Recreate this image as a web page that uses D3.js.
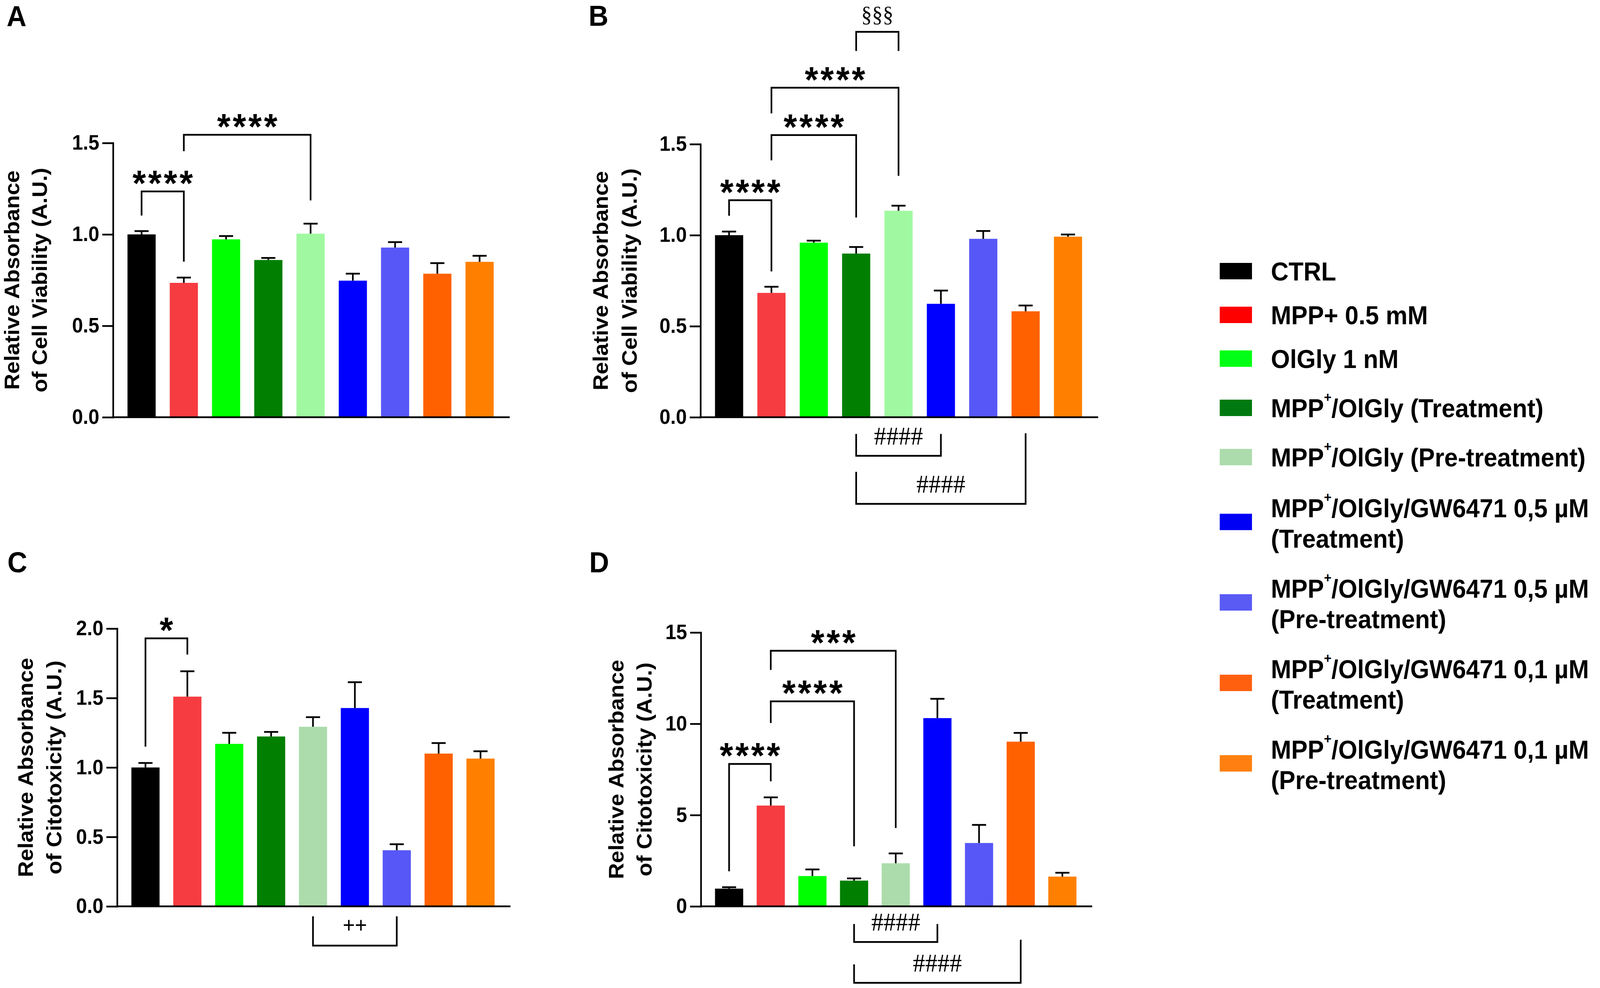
<!DOCTYPE html>
<html>
<head>
<meta charset="utf-8">
<script src="https://cdn.jsdelivr.net/npm/d3@7"></script>
<style>
html,body{margin:0;padding:0;background:#fff;overflow:hidden;}
svg{display:block;width:100vw;height:100vh;font-family:"Liberation Sans",Arial,sans-serif;}
</style>
</head>
<body>
<svg viewBox="0 0 4317 2529" preserveAspectRatio="none"></svg>
<script>
(()=>{
	//groups, bar order == legend order ("^+" = superscript plus, "|" = line break)
	const groups = [
		"CTRL",
		"MPP+ 0.5 mM",
		"OlGly 1 nM",
		"MPP^+/OlGly (Treatment)",
		"MPP^+/OlGly (Pre-treatment)",
		"MPP^+/OlGly/GW6471 0,5 µM|(Treatment)",
		"MPP^+/OlGly/GW6471 0,5 µM|(Pre-treatment)",
		"MPP^+/OlGly/GW6471 0,1 µM|(Treatment)",
		"MPP^+/OlGly/GW6471 0,1 µM|(Pre-treatment)"
	];

	//means and error (SEM)
	const viabilityA = [1.00, 0.735, 0.973, 0.860, 1.004, 0.747, 0.928, 0.785, 0.850];
	const viabilityA_err = [0.018, 0.029, 0.018, 0.011, 0.055, 0.038, 0.030, 0.058, 0.033];
	const viabilityB = [1.00, 0.683, 0.959, 0.899, 1.134, 0.623, 0.980, 0.582, 0.992];
	const viabilityB_err = [0.020, 0.034, 0.011, 0.036, 0.028, 0.073, 0.043, 0.032, 0.012];
	const cytoC = [1.00, 1.510, 1.170, 1.223, 1.293, 1.428, 0.404, 1.100, 1.064];
	const cytoC_err = [0.032, 0.183, 0.080, 0.033, 0.069, 0.186, 0.043, 0.076, 0.053];
	const cytoD = [0.97, 5.52, 1.66, 1.41, 2.36, 10.31, 3.47, 9.02, 1.63];
	const cytoD_err = [0.08, 0.45, 0.36, 0.12, 0.54, 1.06, 0.99, 0.48, 0.21];

	//tick values
	const ticksAB = [0, 0.5, 1.0, 1.5];
	const ticksC = [0, 0.5, 1.0, 1.5, 2.0];
	const ticksD = [0, 5, 10, 15];

	//significance brackets: a,b = group index, y = bar of bracket, ya/yb = leg ends (data units)
	const bracketsA = [
		{a:0, b:1, y:1.235, ya:1.103, yb:0.851, label:"****"},
		{a:1, b:4, y:1.545, ya:1.455, yb:1.186, label:"****"}
	];
	const bracketsB = [
		{a:0, b:1, y:1.192, ya:1.107, yb:0.801, label:"****"},
		{a:1, b:3, y:1.550, ya:1.411, yb:1.097, label:"****"},
		{a:1, b:4, y:1.810, ya:1.669, yb:1.326, label:"****"},
		{a:3, b:4, y:2.117, ya:2.012, yb:2.012, label:"§§§"},
		{a:3, b:5, y:-0.212, ya:-0.092, yb:-0.092, label:"####"},
		{a:3, b:7, y:-0.476, ya:-0.300, yb:-0.088, label:"####"}
	];
	const bracketsC = [
		{a:0, b:1, y:1.930, ya:1.150, yb:1.813, label:"*"},
		{a:4, b:6, y:-0.283, ya:-0.072, yb:-0.072, label:"++"}
	];
	const bracketsD = [
		{a:0, b:1, y:7.80, ya:1.92, yb:6.85, label:"****"},
		{a:1, b:3, y:11.23, ya:10.04, yb:3.29, label:"****"},
		{a:1, b:4, y:14.00, ya:12.95, yb:4.29, label:"***"},
		{a:3, b:5, y:-1.95, ya:-0.97, yb:-0.97, label:"####"},
		{a:3, b:7, y:-4.19, ya:-3.18, yb:-1.83, label:"####"}
	];

	const titleViability = ["Relative Absorbance", "of Cell Viability (A.U.)"];
	const titleCyto = ["Relative Absorbance", "of Citotoxicity (A.U.)"];

	//styles
	const colorsAB = ["#000000","#f63c41","#00ff00","#007f00","#a0f9a0","#0000ff","#5757f7","#ff6100","#ff8000"];
	const colorsCD = ["#000000","#f63c41","#00ff00","#007f00","#acdcac","#0000ff","#5757f7","#ff6100","#ff8000"];
	const legendColors = ["#000000","#ff0000","#00ff14","#007a10","#acdcac","#0000f5","#5a5af5","#ff6010","#ff8010"];
	const barW = 76, capW = 38, lw = 4.5;
	const markStyle = {
		"*": {family:"Liberation Sans", weight:"bold", size:93, spacing:6, shift:11},
		"§": {family:"Liberation Serif", weight:"normal", size:58, spacing:0, shift:-25},
		"#": {family:"Liberation Serif", weight:"normal", size:66, spacing:0, shift:-29},
		"+": {family:"Liberation Sans", weight:"normal", size:56, spacing:0, shift:-34}
	};

	let svg = d3.select("svg");
	svg.append("rect").attr("width",4317).attr("height",2529).attr("fill","#fff");

	const panels = [
		{letter:"A", lx:18, ly:67, x0:305, y0:1068, yTop:366, step:114, titleOff:[-253,-179],
			values:viabilityA, errs:viabilityA_err, ticks:ticksAB, fmt:d3.format(".1f"), brackets:bracketsA, title:titleViability, colors:colorsAB},
		{letter:"B", lx:1588, ly:66, x0:1890, y0:1068, yTop:369, step:114.3, titleOff:[-250,-172],
			values:viabilityB, errs:viabilityB_err, ticks:ticksAB, fmt:d3.format(".1f"), brackets:bracketsB, title:titleViability, colors:colorsAB},
		{letter:"C", lx:20, ly:1465, x0:316, y0:2320, yTop:1609, step:113, titleOff:[-227,-151],
			values:cytoC, errs:cytoC_err, ticks:ticksC, fmt:d3.format(".1f"), brackets:bracketsC, title:titleCyto, colors:colorsCD},
		{letter:"D", lx:1590, ly:1465, x0:1891, y0:2320, yTop:1619, step:112.4, titleOff:[-209,-133],
			values:cytoD, errs:cytoD_err, ticks:ticksD, fmt:d3.format("d"), brackets:bracketsD, title:titleCyto, colors:colorsCD}
	];

	panels.forEach(drawPanel);
	drawLegend();

	function drawPanel(p){
		let g = svg.append("g");
		let y = d3.scaleLinear().domain([0, p.ticks[p.ticks.length-1]]).range([p.y0, p.yTop]);
		let pad = 1 - barW/p.step;
		let x = d3.scaleBand().domain(d3.range(p.values.length))
			.range([p.x0 + 20, p.x0 + 20 + p.values.length*p.step])
			.paddingInner(pad).paddingOuter(pad/2);
		let cx = i => x(i) + x.bandwidth()/2;

		//bars
		g.selectAll(".bar").data(p.values).join("rect")
			.attr("class","bar")
			.attr("x", (d,i)=> x(i))
			.attr("y", d=> y(d))
			.attr("width", x.bandwidth())
			.attr("height", d=> p.y0 - y(d))
			.attr("fill", (d,i)=> p.colors[i]);

		//error bars (upper only)
		let eb = g.selectAll(".err").data(p.values).join("g").attr("class","err")
			.attr("stroke","#000").attr("stroke-width",lw);
		eb.append("line")
			.attr("x1",(d,i)=>cx(i)).attr("x2",(d,i)=>cx(i))
			.attr("y1",d=>y(d)).attr("y2",(d,i)=>y(d + p.errs[i]));
		eb.append("line")
			.attr("x1",(d,i)=>cx(i)-capW/2).attr("x2",(d,i)=>cx(i)+capW/2)
			.attr("y1",(d,i)=>y(d + p.errs[i])).attr("y2",(d,i)=>y(d + p.errs[i]));

		//y axis
		let ax = g.append("g").attr("transform","translate("+p.x0+",0)")
			.call(d3.axisLeft(y).tickValues(p.ticks).tickFormat(p.fmt).tickSize(29).tickSizeOuter(0).tickPadding(8));
		ax.select(".domain").attr("stroke-width",lw).attr("stroke-linecap","square");
		ax.selectAll(".tick line").attr("stroke-width",lw);
		ax.selectAll(".tick text")
			.attr("font-size",53).attr("font-weight","bold")
			.attr("font-family","Liberation Sans, Arial, sans-serif").attr("fill","#000");

		//x axis line
		g.append("line")
			.attr("x1",p.x0).attr("x2",x.range()[1] + 22)
			.attr("y1",p.y0).attr("y2",p.y0)
			.attr("stroke","#000").attr("stroke-width",lw).attr("stroke-linecap","square");

		//axis title
		p.title.forEach((t,i)=>{
			g.append("text")
				.attr("transform","translate("+(p.x0 + p.titleOff[i])+","+((p.y0+p.yTop)/2)+") rotate(-90)")
				.attr("text-anchor","middle")
				.attr("font-size",57).attr("font-weight","bold")
				.text(t);
		});

		//brackets
		g.selectAll(".br").data(p.brackets).join("path")
			.attr("class","br")
			.attr("d", b=> "M"+cx(b.a)+","+y(b.ya)+"V"+y(b.y)+"H"+cx(b.b)+"V"+y(b.yb))
			.attr("fill","none").attr("stroke","#000").attr("stroke-width",lw);

		g.selectAll(".bl").data(p.brackets).join("text")
			.attr("class","bl")
			.attr("x", b=> (cx(b.a)+cx(b.b))/2 + markStyle[b.label[0]].spacing/2)
			.attr("y", b=> y(b.y) + markStyle[b.label[0]].shift)
			.attr("text-anchor","middle")
			.attr("font-family", b=> markStyle[b.label[0]].family)
			.attr("font-weight", b=> markStyle[b.label[0]].weight)
			.attr("font-size", b=> markStyle[b.label[0]].size)
			.attr("letter-spacing", b=> markStyle[b.label[0]].spacing)
			.text(b=> b.label);

		//panel letter
		svg.append("text")
			.attr("x",p.lx).attr("y",p.ly)
			.attr("font-size",74).attr("font-weight","bold")
			.text(p.letter);
	}

	function richLine(t, str){
		let parts = str.split("^+");
		parts.forEach((s,j)=>{
			if(j>0){
				t.append("tspan").attr("font-size",35).attr("dy",-39).text("+");
				t.append("tspan").attr("dy",39).text(s);
			}else{
				t.append("tspan").text(s);
			}
		});
	}

	function drawLegend(){
		let lg = svg.append("g");
		let rows = groups.map(s=> ({lines:s.split("|"), sup:s.indexOf("^+")>=0}));
		let cy = 694;
		rows.forEach((r,i)=>{
			if(i>0){
				let hp = rows[i-1].lines.length>1 ? 158 : 78;
				let hc = r.lines.length>1 ? 158 : 78;
				cy += 34 + (hp+hc)/2 + (r.sup ? 14 : 0);
			}
			r.cy = cy;
		});

		lg.selectAll("rect").data(rows).join("rect")
			.attr("x",3291).attr("y",d=>d.cy-21)
			.attr("width",87).attr("height",42)
			.attr("fill",(d,i)=>legendColors[i]);

		rows.forEach(r=>{
			r.lines.forEach((ln,k)=>{
				let base = r.lines.length>1 ? r.cy - 12 + k*78 : r.cy + 24;
				let t = lg.append("text").attr("x",3429).attr("y",base)
					.attr("font-size",66).attr("font-weight","bold");
				richLine(t, ln);
			});
		});
	}
})();
</script>
</body>
</html>
